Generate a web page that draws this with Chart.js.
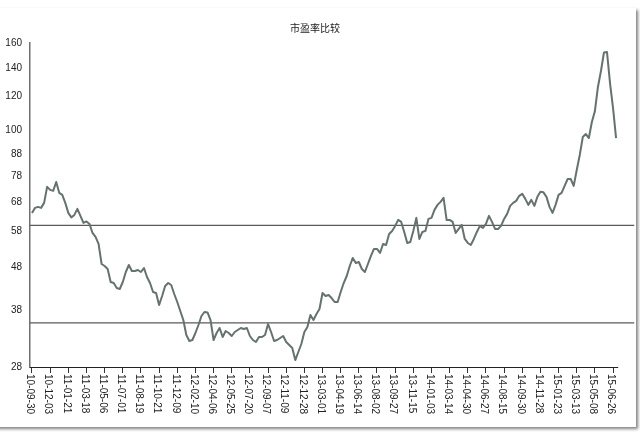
<!DOCTYPE html>
<html><head><meta charset="utf-8">
<style>
html,body{margin:0;padding:0;background:#fff;width:640px;height:435px;overflow:hidden}
#paper{position:absolute;left:-6px;top:8px;width:642px;height:419px;background:#fff;box-shadow:2px 2px 3px #808080}
#wrap{position:absolute;left:0;top:0;width:640px;height:435px;filter:blur(0.5px)}
</style>
<script src="https://cdn.jsdelivr.net/npm/chart.js@4"></script>
</head><body>
<div id="paper"></div>
<div id="wrap"><canvas id="c" width="640" height="435"></canvas></div>
<script>
const titleText = "市盈率比较";
const yTickValues = [28,38,48,58,68,78,88,100,120,140,160];
const tickLabels = ["10-09-30","10-12-03","11-01-21","11-03-18","11-05-06","11-07-01","11-08-19","11-10-21","11-12-09","12-02-10","12-04-06","12-05-25","12-07-20","12-09-07","12-11-09","12-12-28","13-03-01","13-04-19","13-06-14","13-08-02","13-09-27","13-11-15","14-01-03","14-03-14","14-04-30","14-06-27","14-08-15","14-09-30","14-11-28","15-01-23","15-03-13","15-05-08","15-06-26"];
const pointsPerTick = 6;
const peRatio = [64.15,65.91,66.26,65.91,67.7,73.8,72.62,72.23,75.74,71.46,70.69,67.7,64.15,62.62,63.46,65.55,63.12,60.78,61.27,60.46,57.59,56.36,54.28,48.73,48.21,47.44,44.23,43.99,42.82,42.6,44.23,46.68,48.47,46.93,46.93,47.19,46.68,47.69,45.44,43.99,41.91,41.69,39.08,41.02,43.29,43.99,43.52,41.47,39.72,37.84,36.05,33.26,32.21,32.38,33.62,35.1,36.84,37.64,37.54,36.05,32.38,33.62,34.54,32.91,33.98,33.62,33.08,33.8,34.17,34.54,34.35,34.54,33.08,32.38,32.03,32.91,32.91,33.26,35.29,33.8,32.21,32.38,32.73,33.08,32.03,31.52,31.01,29.07,30.35,31.69,33.8,34.72,37.04,36.05,37.24,38.25,41.69,41.02,41.24,40.58,39.72,39.72,41.91,43.99,45.68,48.21,50.34,49.0,49.26,47.44,46.68,48.73,50.88,52.84,52.84,51.71,54.28,53.98,57.28,58.22,59.81,61.78,61.11,57.9,54.57,54.87,58.22,62.45,55.76,57.9,58.22,62.11,62.45,65.2,66.98,68.07,69.56,61.78,61.78,61.11,57.59,58.85,60.13,55.76,54.57,53.98,55.76,57.9,59.81,59.17,60.46,63.12,61.11,58.85,58.85,59.81,62.11,63.81,66.62,67.7,68.44,70.31,71.07,69.18,66.98,68.8,66.62,69.93,71.84,71.65,69.93,66.26,64.15,66.98,70.69,71.46,74.2,76.97,76.97,74.2,80.78,87.58,96.48,98.05,95.96,104.6,110.9,126.3,137.6,152,152.4,129.0,112.7,95.96];
const upperLevel = [60,60];
const lowerLevel = [35.5,35.5];
const levelSpan = [-0.66,199];
const xRange = [-0.66,197.6];
const baselineEnd = 193.7;

const inkLine = "#65726d", inkRule = "#5a5a5a", inkText = "#222222";
const pairs = (xs,ys)=>xs.map((x,i)=>({x,y:ys[i]}));

const baseline = {id:"baseline",afterDraw(chart){
  const {ctx,scales:{x,y}}=chart;
  ctx.save();ctx.strokeStyle="#222";ctx.lineWidth=1;ctx.beginPath();
  const py=Math.round(y.getPixelForValue(yTickValues[0]))+0.5;
  ctx.moveTo(x.left,py);ctx.lineTo(x.getPixelForValue(baselineEnd),py);ctx.stroke();ctx.restore();
}};

new Chart(document.getElementById("c"),{
  type:"line",
  plugins:[baseline],
  data:{datasets:[
    {label:"PE",data:peRatio.map((v,i)=>({x:i,y:v})),borderColor:inkLine,borderWidth:2,pointRadius:0,tension:0,borderJoinStyle:"round",order:1},
    {label:"upper",data:pairs(levelSpan,upperLevel),borderColor:inkRule,borderWidth:1.4,pointRadius:0,clip:false,order:2},
    {label:"lower",data:pairs(levelSpan,lowerLevel),borderColor:inkRule,borderWidth:1.4,pointRadius:0,clip:false,order:2}
  ]},
  options:{
    responsive:false,animation:false,
    layout:{padding:{left:0,right:10,top:0,bottom:0}},
    plugins:{legend:{display:false},tooltip:{enabled:false},
      title:{display:true,text:titleText,color:inkText,
        font:{family:"'Noto Sans CJK SC'",size:10,weight:"normal",lineHeight:1.2},
        padding:{top:22,bottom:9}}},
    scales:{
      x:{type:"linear",min:xRange[0],max:xRange[1],
        beforeUpdate(s){s._getXAxisLabelAlignment=()=>"left";},
        afterBuildTicks(s){s.ticks=tickLabels.map((_,i)=>({value:i*pointsPerTick}));},
        afterFit(s){s.height=68;},
        grid:{display:true,drawOnChartArea:false,drawTicks:true,tickLength:6,color:"#333",lineWidth:1},
        border:{display:false},
        ticks:{autoSkip:false,minRotation:-90,maxRotation:-90,padding:1,labelOffset:-2,color:inkText,
          font:{family:"'Liberation Sans'",size:10},
          callback:v=>tickLabels[v/pointsPerTick]}},
      y:{type:"logarithmic",min:yTickValues[0],max:yTickValues[yTickValues.length-1],
        afterBuildTicks(s){s.ticks=yTickValues.map(v=>({value:v}));},
        afterFit(s){s.width=30;},
        grid:{display:false,drawTicks:false},
        border:{display:true,color:"#707070",width:1.5},
        ticks:{padding:8,color:inkText,autoSkip:false,font:{family:"'Liberation Sans'",size:10},
          callback:v=>String(v)}}
    }
  }
});
</script>
</body></html>
